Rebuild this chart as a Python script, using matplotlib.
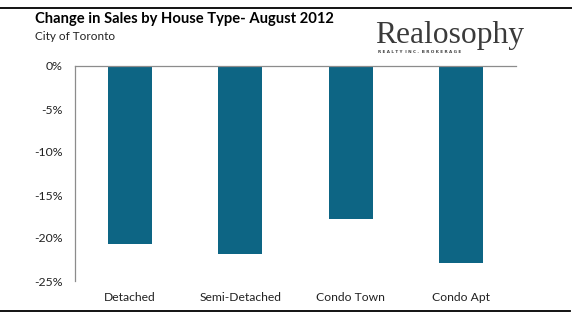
import matplotlib
matplotlib.use("Agg")
import matplotlib.pyplot as plt
from matplotlib.lines import Line2D

categories = ["Detached", "Semi-Detached", "Condo Town", "Condo Apt"]
values = [-20.7, -21.9, -17.8, -22.9]
yticks = [0, -5, -10, -15, -20, -25]
ytick_labels = ["0%", "-5%", "-10%", "-15%", "-20%", "-25%"]

W, H = 572, 323
fig = plt.figure(figsize=(W / 100, H / 100), dpi=100)
fig.patch.set_facecolor("white")

ax = fig.add_axes([75 / W, 1 - 281 / H, (516 - 75) / W, (281 - 66) / H])
x = range(len(categories))
ax.bar(x, values, width=0.4, color="#0d6584", zorder=2)
ax.set_xlim(-0.5, 3.5)
ax.set_ylim(-25, 0)
ax.set_yticks(yticks)
ax.set_yticklabels(ytick_labels)
ax.set_xticks([])
for s in ["bottom", "right"]:
    ax.spines[s].set_visible(False)
for s in ["left", "top"]:
    ax.spines[s].set_color("#8c8c8c")
    ax.spines[s].set_linewidth(0.9)
ax.tick_params(axis="y", length=0, pad=9, labelsize=8.8, labelcolor="#222222")
for lab in ax.get_yticklabels():
    lab.set_fontfamily("Lato")

for i, c in enumerate(categories):
    ax.text(i, -26.9, c, ha="center", va="center", fontsize=8.7, family="Lato",
            color="#222222")

# frame lines
fig.add_artist(Line2D([0, 1], [1 - 8 / H, 1 - 8 / H], color="black", lw=1.3,
                      transform=fig.transFigure))
fig.add_artist(Line2D([0, 570 / W], [1 - 311 / H, 1 - 311 / H], color="black",
                      lw=1.3, transform=fig.transFigure))

fig.text(35 / W, 1 - 19 / H, "Change in Sales by House Type- August 2012",
         fontsize=10.6, fontweight="bold", family="Lato", va="center", ha="left",
         color="black")
fig.text(35 / W, 1 - 37 / H, "City of Toronto", fontsize=8.5, family="Lato",
         va="center", ha="left", color="#222222")

fig.text(375 / W, 1 - 36 / H, "Realosophy", fontsize=22.7, family="Liberation Serif",
         va="center", ha="left", color="#3a3a3a")
fig.text(378 / W, 1 - 52 / H, "R E A L T Y  I N C .  B R O K E R A G E", fontsize=3.0,
         family="DejaVu Sans", fontweight="bold", va="center", ha="left", color="#444444")

fig.savefig("out.png", dpi=100, facecolor="white")
